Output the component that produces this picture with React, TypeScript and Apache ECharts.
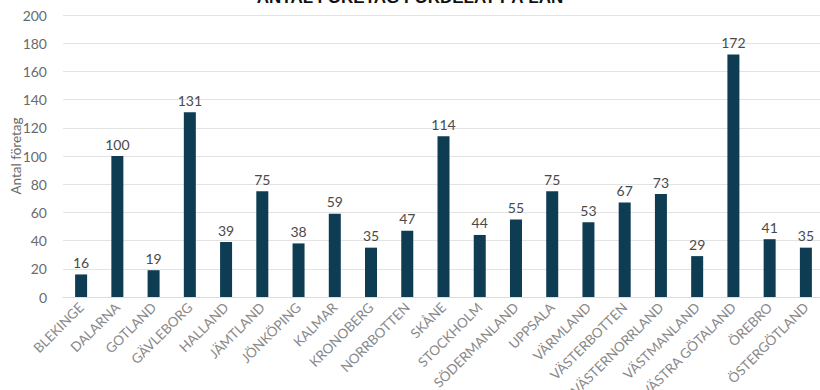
import React, { useEffect, useRef } from "react";
import * as echarts from "echarts";

const categories = [
  "BLEKINGE", "DALARNA", "GOTLAND", "GÄVLEBORG", "HALLAND", "JÄMTLAND", "JÖNKÖPING",
  "KALMAR", "KRONOBERG", "NORRBOTTEN", "SKÅNE", "STOCKHOLM", "SÖDERMANLAND", "UPPSALA",
  "VÄRMLAND", "VÄSTERBOTTEN", "VÄSTERNORRLAND", "VÄSTMANLAND", "VÄSTRA GÖTALAND",
  "ÖREBRO", "ÖSTERGÖTLAND",
];
const values = [16, 100, 19, 131, 39, 75, 38, 59, 35, 47, 114, 44, 55, 75, 53, 67, 73, 29, 172, 41, 35];
const titleText = "ANTAL FÖRETAG FÖRDELAT PÅ LÄN";
const yAxisName = "Antal företag";

export default function App() {
  const ref = useRef<HTMLDivElement>(null);
  useEffect(() => {
    const chart = echarts.init(ref.current!, null, { renderer: "svg" });
    chart.setOption({
      animation: false,
      title: {
        text: titleText,
        left: "center",
        top: -11,
        padding: 0,
        textStyle: { fontFamily: "Liberation Sans", fontWeight: "bold", fontSize: 17, color: "#111" },
      },
      grid: {
        left: 63,
        right: -4,
        top: 15,
        bottom: 93,
        containLabel: false,
        outerBoundsMode: "none",
      },
      xAxis: {
        type: "category",
        data: categories,
        axisLine: { show: true, lineStyle: { color: "#dcdcdc" } },
        axisTick: { show: false },
        axisLabel: {
          rotate: 45,
          interval: 0,
          color: "#888888",
          fontFamily: "Lato",
          fontSize: 13.5,
          margin: 8,
        },
      },
      yAxis: {
        type: "value",
        min: 0,
        max: 200,
        interval: 20,
        name: yAxisName,
        nameLocation: "middle",
        nameGap: 40,
        nameMoveOverlap: false,
        nameTextStyle: { color: "#6a6a6a", fontFamily: "Lato", fontSize: 13.5 },
        axisLine: { show: false },
        axisTick: { show: false },
        axisLabel: { color: "#6a6a6a", fontFamily: "Lato", fontSize: 14, margin: 16 },
        splitLine: { lineStyle: { color: "#e3e3e3" } },
      },
      series: [
        {
          type: "bar",
          data: values,
          barWidth: 12,
          itemStyle: { color: "#0d3c53" },
          label: {
            show: true,
            position: "top",
            color: "#4a4a4a",
            fontFamily: "Lato",
            fontSize: 14,
            distance: 5,
          },
        },
      ],
    });
    return () => chart.dispose();
  }, []);
  return (
    <div
      ref={ref}
      style={{ position: "absolute", left: 0, top: 0, width: 820, height: 390 }}
    />
  );
}
